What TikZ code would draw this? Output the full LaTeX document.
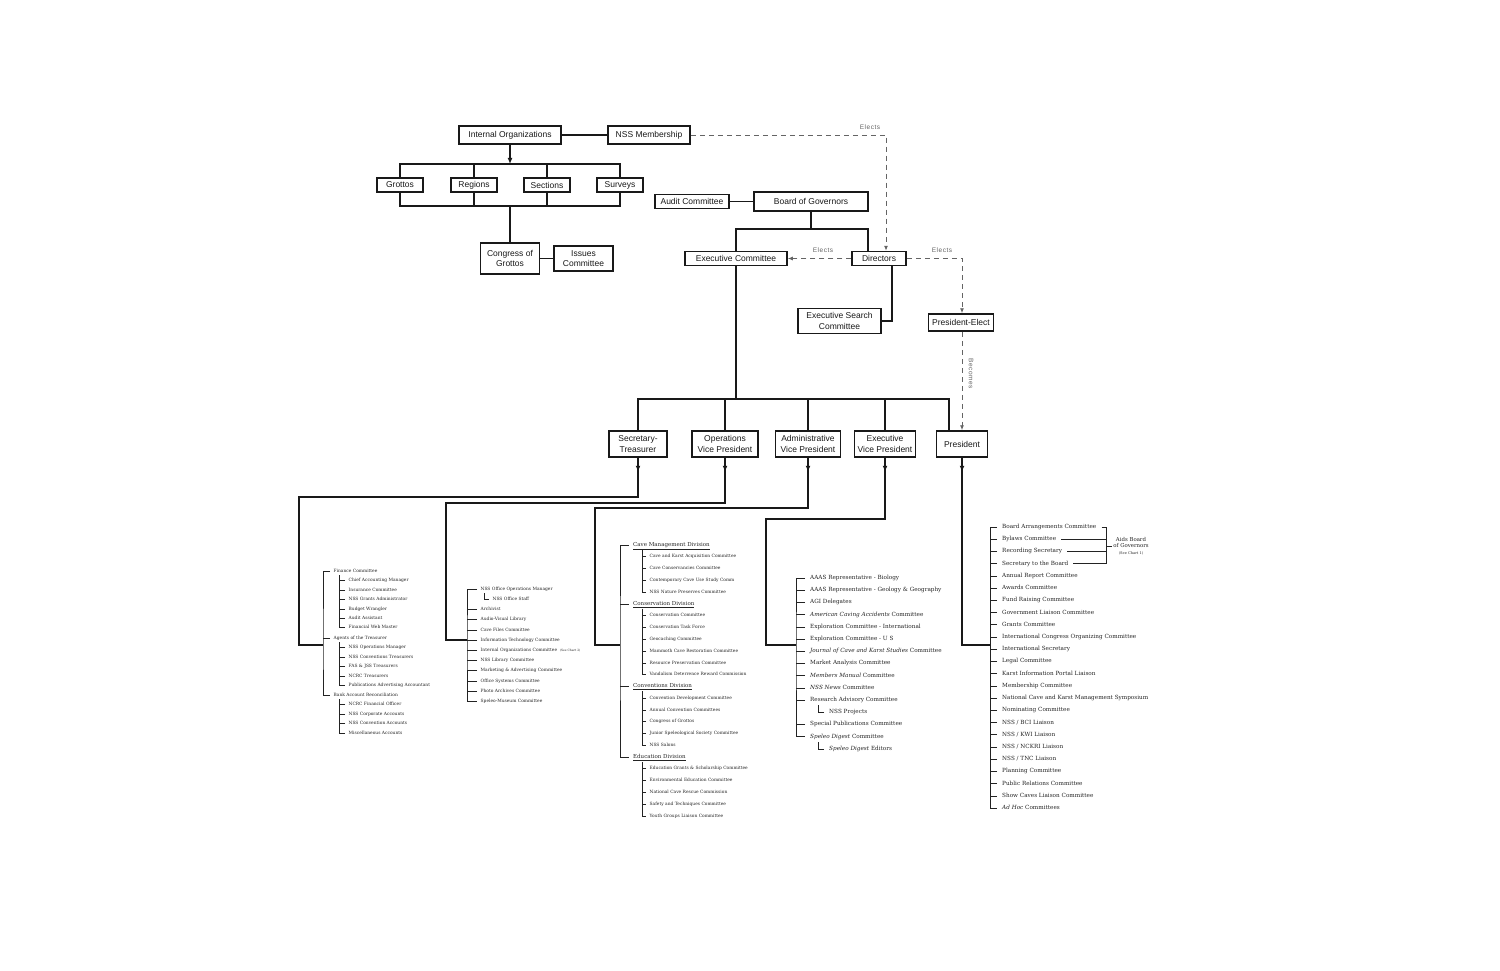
\documentclass[tikz,border=0pt]{standalone}
\usepackage{fontspec}
\usetikzlibrary{arrows.meta,positioning,decorations.markings}
\newfontfamily\boxfont{Liberation Sans}
\newfontfamily\listfont{DejaVu Serif}
\definecolor{nssInk}{RGB}{25,25,25}
\definecolor{nssDash}{RGB}{100,100,100}
\definecolor{nssText}{RGB}{35,35,35}

\begin{document}
\begin{tikzpicture}[x=1pt, y=-1pt,
    unit/.style={rectangle, draw=nssInk, line width=1.5pt, fill=white,
                 font=\boxfont\fontsize{8.5}{10.5}\selectfont, text=nssInk,
                 align=center, inner sep=0pt},
    conn/.style={nssInk, line width=1.3pt},
    downarr/.style={postaction={decorate}, decoration={markings,
        mark=at position 14pt with {\arrow{Latex[length=6pt,width=5pt]}}}},
    elect/.style={nssDash, line width=0.9pt, dash pattern=on 5pt off 4pt,
                  -{Latex[length=5pt,width=4pt]}},
    elabel/.style={font=\boxfont\fontsize{6.5}{8}\selectfont\addfontfeatures{LetterSpace=8},
                   text=nssDash, inner sep=1pt},
    twig/.style={nssText, line width=0.6pt},
    entry/.style={anchor=west, inner xsep=5pt, inner ysep=0pt, text=nssText,
                  font=\listfont\fontsize{5.7}{6.5}\selectfont,
                  text height=4.3pt, text depth=1.2pt},
    subentry/.style={entry, inner xsep=3.5pt,
                     font=\listfont\fontsize{4.4}{5}\selectfont,
                     text height=3.3pt, text depth=0.9pt},
    division/.style={entry, inner xsep=4pt, font=\listfont\fontsize{5.5}{6.5}\selectfont},
    aside/.style={align=center, inner sep=1pt, text=nssText,
                  font=\listfont\fontsize{5.4}{6.6}\selectfont}
  ]
  \useasboundingbox (0,0) rectangle (1500,971);

  % internal organizations
  \node[unit, minimum width=102, minimum height=18] (intorg) at (510,135) {Internal Organizations};
  \node[unit, minimum width=82, minimum height=18] (nssmem) at (649,135) {NSS Membership};
  \draw[conn] (intorg) -- (nssmem);

  \node[unit, minimum width=46, minimum height=14] (grottos) at (400,185) {Grottos};
  \node[unit, minimum width=46, minimum height=14] (regions) at (474,185) {Regions};
  \node[unit, minimum width=46, minimum height=14] (sections) at (547,185) {Sections};
  \node[unit, minimum width=46, minimum height=14] (surveys) at (620,185) {Surveys};
  \coordinate (topbar) at (510,164);
  \coordinate (lowbar) at (510,206);
  \draw[conn, -{Latex[length=6pt,width=5pt]}] (intorg) -- (topbar);
  \draw[conn] (grottos.north) |- (topbar) -| (surveys.north);
  \draw[conn] (regions.north) -- (regions.north |- topbar);
  \draw[conn] (sections.north) -- (sections.north |- topbar);
  \draw[conn] (grottos.south) |- (lowbar) -| (surveys.south);
  \draw[conn] (regions.south) -- (regions.south |- lowbar);
  \draw[conn] (sections.south) -- (sections.south |- lowbar);

  \node[unit, minimum width=59, minimum height=31] (congress) at (510,258.5) {Congress of\\Grottos};
  \node[unit, minimum width=59, minimum height=25] (issues) at (583.5,258.5) {Issues\\Committee};
  \draw[conn] (lowbar) -- (congress.north);
  \draw[conn] (congress) -- (issues);

  % governance
  \node[unit, minimum width=74, minimum height=14] (audit) at (692,201.5) {Audit Committee};
  \node[unit, minimum width=114, minimum height=19] (bog) at (811,201.5) {Board of Governors};
  \draw[conn] (audit) -- (bog);
  \node[unit, minimum width=102, minimum height=14] (excom) at (736,258.5) {Executive Committee};
  \node[unit, minimum width=54, minimum height=14] (directors) at (879,258.5) {Directors};
  \coordinate (bogbar) at (811,229);
  \draw[conn] (bog) -- (bogbar);
  \draw[conn] (excom.north) |- (bogbar) -| ([xshift=-11pt]directors.north);

  \node[unit, minimum width=83, minimum height=25] (search) at (839.5,321) {Executive Search\\Committee};
  \draw[conn] ([xshift=13pt]directors.south) |- (search.east);
  \node[unit, minimum width=65, minimum height=17] (preselect) at (961,322.5) {President-Elect};

  % officers
  \coordinate (offbar) at (736,399);
  \draw[conn] (excom) -- (offbar);
  \node[unit, minimum width=58, minimum height=26] (sectreas) at (638,444) {Secretary-\\Treasurer};
  \node[unit, minimum width=66, minimum height=26] (opsvp) at (725,444) {Operations\\Vice President};
  \node[unit, minimum width=65, minimum height=26] (admvp) at (808,444) {Administrative\\Vice President};
  \node[unit, minimum width=61, minimum height=26] (exevp) at (885,444) {Executive\\Vice President};
  \node[unit, minimum width=51, minimum height=26] (pres) at (962,444) {President};
  \draw[conn] (sectreas.north) |- (offbar) -| ([xshift=-13pt]pres.north);
  \draw[conn] (opsvp.north) -- (opsvp.north |- offbar);
  \draw[conn] (admvp.north) -- (admvp.north |- offbar);
  \draw[conn] (exevp.north) -- (exevp.north |- offbar);

  % elections
  \draw[elect] (nssmem.east) -| ([xshift=7pt]directors.north);
  \node[elabel] (el1) at (870,127) {Elects};
  \draw[elect] (directors.west) -- (excom.east);
  \node[elabel] (el2) at (823,250) {Elects};
  \draw[elect] (directors.east) -| (pres.north |- preselect.north);
  \node[elabel] (el3) at (942,250) {Elects};
  \draw[elect] (pres.north |- preselect.south) -- (pres.north);
  \node[elabel, rotate=-90] (becomes) at (971,374) {Becomes};

  % feeds to the lists
  \coordinate (stT) at (323,645);
  \coordinate (ovT) at (467,640);
  \coordinate (avT) at (620,645);
  \coordinate (evT) at (796,645);
  \coordinate (prT) at (990,645);
  \draw[conn, downarr] (sectreas.south) |- (299,497) |- (stT);
  \draw[conn, downarr] (opsvp.south) |- (446,503) |- (ovT);
  \draw[conn, downarr] (admvp.south) |- (595,508) |- (avT);
  \draw[conn, downarr] (exevp.south) |- (766,519) |- (evT);
  \draw[conn, downarr] (pres.south) |- (prT);

  % secretary-treasurer list
  \node[subentry] (fin) at (330,571) {Finance Committee};
  \node[subentry] (agents) at (330,638) {Agents of the Treasurer};
  \node[subentry] (bank) at (330,695) {Bank Account Reconciliation};
  \draw[twig] (fin.west) -| (stT) |- (bank.west);
  \draw[twig] (agents.west) -- (agents.west -| stT);
  \foreach \t [count=\i] in {Chief Accounting Manager, Insurance Committee, NSS Grants Administrator,
      Budget Wrangler, Audit Assistant, Financial Web Master}
    \node[subentry] (fin\i) at (345,571+9.45*\i) {\t};
  \draw[twig] (fin1.west) ++(-6,-5) |- (fin6.west);
  \foreach \i in {1,...,5} \draw[twig] (fin\i.west) -- ++(-6,0);
  \foreach \t [count=\i] in {NSS Operations Manager, NSS Conventions Treasurers, FAS \& JSS Treasurers,
      NCRC Treasurers, Publications Advertising Accountant}
    \node[subentry] (agents\i) at (345,638+9.45*\i) {\t};
  \draw[twig] (agents1.west) ++(-6,-5) |- (agents5.west);
  \foreach \i in {1,...,4} \draw[twig] (agents\i.west) -- ++(-6,0);
  \foreach \t [count=\i] in {NCRC Financial Officer, NSS Corporate Accounts, NSS Convention Accounts,
      Miscellaneous Accounts}
    \node[subentry] (bank\i) at (345,695+9.45*\i) {\t};
  \draw[twig] (bank1.west) ++(-6,-5) |- (bank4.west);
  \foreach \i in {1,...,3} \draw[twig] (bank\i.west) -- ++(-6,0);

  % operations vp list
  \node[subentry] (ops1) at (477,589) {NSS Office Operations Manager};
  \node[subentry] (ops1a) at (489,599.2) {NSS Office Staff};
  \draw[twig] (ops1a.west) -- ++(-5,0) -- ++(0,-6);
  \foreach \t [count=\i from 2] in {Archivist, Audio-Visual Library, Cave Files Committee,
      Information Technology Committee,
      Internal Organizations Committee~~{\fontsize{3}{3}\selectfont (See Chart 2)},
      NSS Library Committee, Marketing \& Advertising Committee, Office Systems Committee,
      Photo Archives Committee, Speleo-Museum Committee}
    \node[subentry] (ops\i) at (477,589+10.2*\i) {\t};
  \draw[twig] (ops1.west) -| (ovT) |- (ops11.west);
  \foreach \i in {2,...,10} \draw[twig] (ops\i.west) -- (ops\i.west -| ovT);

  % administrative vp list
  \node[division] (cave) at (629,545) {\underline{Cave Management Division}};
  \node[division] (cons) at (629,603.9) {\underline{Conservation Division}};
  \node[division] (conv) at (629,686.4) {\underline{Conventions Division}};
  \node[division] (educ) at (629,757) {\underline{Education Division}};
  \draw[twig] (cave.west) -| (avT) |- (educ.west);
  \draw[twig] (cons.west) -- (cons.west -| avT);
  \draw[twig] (conv.west) -- (conv.west -| avT);
  \foreach \t [count=\i] in {Cave and Karst Acquisition Committee, Cave Conservancies Committee,
      Contemporary Cave Use Study Comm, NSS Nature Preserves Committee}
    \node[subentry] (cave\i) at (646,545+11.78*\i) {\t};
  \draw[twig] (cave1.west) ++(-4,-7) |- (cave4.west);
  \foreach \i in {1,...,3} \draw[twig] (cave\i.west) -- ++(-4,0);
  \foreach \t [count=\i] in {Conservation Committee, Conservation Task Force, Geocaching Committee,
      Mammoth Cave Restoration Committee, Resource Preservation Committee,
      Vandalism Deterrence Reward Commission}
    \node[subentry] (cons\i) at (646,603.9+11.78*\i) {\t};
  \draw[twig] (cons1.west) ++(-4,-7) |- (cons6.west);
  \foreach \i in {1,...,5} \draw[twig] (cons\i.west) -- ++(-4,0);
  \foreach \t [count=\i] in {Convention Development Committee, Annual Convention Committees,
      Congress of Grottos, Junior Speleological Society Committee, NSS Salons}
    \node[subentry] (conv\i) at (646,686.4+11.78*\i) {\t};
  \draw[twig] (conv1.west) ++(-4,-7) |- (conv5.west);
  \foreach \i in {1,...,4} \draw[twig] (conv\i.west) -- ++(-4,0);
  \foreach \t [count=\i] in {Education Grants \& Scholarship Committee, Environmental Education Committee,
      National Cave Rescue Commission, Safety and Techniques Committee, Youth Groups Liaison Committee}
    \node[subentry] (educ\i) at (646,757+11.78*\i) {\t};
  \draw[twig] (educ1.west) ++(-4,-7) |- (educ5.west);
  \foreach \i in {1,...,4} \draw[twig] (educ\i.west) -- ++(-4,0);

  % executive vp list
  \foreach \k/\t in {0/AAAS Representative - Biology, 1/AAAS Representative - Geology \& Geography,
      2/AGI Delegates, 3/\textit{American Caving Accidents} Committee,
      4/Exploration Committee - International, 5/Exploration Committee - U S,
      6/\textit{Journal of Cave and Karst Studies} Committee, 7/Market Analysis Committee,
      8/\textit{Members Manual} Committee, 9/\textit{NSS News} Committee,
      10/Research Advisory Committee, 12/Special Publications Committee,
      13/\textit{Speleo Digest} Committee}
    \node[entry] (ev\k) at (805,578+12.2*\k) {\t};
  \draw[twig] (ev0.west) -| (evT) |- (ev13.west);
  \foreach \k in {1,...,10,12} \draw[twig] (ev\k.west) -- (ev\k.west -| evT);
  \node[entry] (ev11) at (824,578+12.2*11) {NSS Projects};
  \draw[twig] (ev11.west) -- ++(-6,0) -- ++(0,-7);
  \node[entry] (ev14) at (824,578+12.2*14) {\textit{Speleo Digest} Editors};
  \draw[twig] (ev14.west) -- ++(-6,0) -- ++(0,-7);

  % president list
  \foreach \t [count=\i from 0] in {Board Arrangements Committee, Bylaws Committee, Recording Secretary,
      Secretary to the Board, Annual Report Committee, Awards Committee, Fund Raising Committee,
      Government Liaison Committee, Grants Committee, International Congress Organizing Committee,
      International Secretary, Legal Committee, Karst Information Portal Liaison, Membership Committee,
      National Cave and Karst Management Symposium, Nominating Committee, {NSS / BCI Liaison},
      {NSS / KWI Liaison}, {NSS / NCKRI Liaison}, {NSS / TNC Liaison}, Planning Committee,
      Public Relations Committee, Show Caves Liaison Committee, {\textit{Ad Hoc} Committees}}
    \node[entry] (pr\i) at (997,527+12.22*\i) {\t};
  \draw[twig] (pr0.west) -| (prT) |- (pr23.west);
  \foreach \i in {1,...,22} \draw[twig] (pr\i.west) -- (pr\i.west -| prT);

  \coordinate (aidsbar) at (1106,546);
  \node[aside] (aids) at (1131,546) {Aids Board\\of Governors\\{\fontsize{3.6}{4.4}\selectfont (See Chart 1)}};
  \foreach \i in {0,...,3} \draw[twig] (pr\i.east) -- (pr\i.east -| aidsbar);
  \draw[twig] (pr0.east -| aidsbar) -- (pr3.east -| aidsbar);
  \draw[twig] (aidsbar) -- (aids.west);
\end{tikzpicture}
\end{document}
